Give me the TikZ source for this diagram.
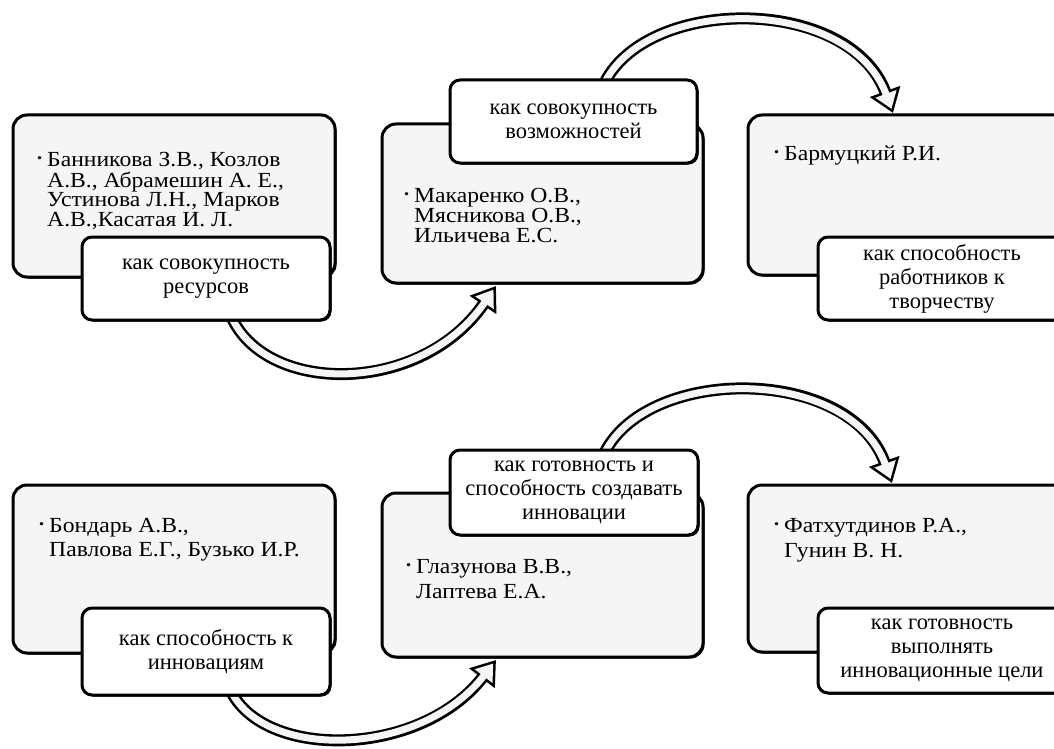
\documentclass[tikz,border=0pt]{standalone}
\usepackage{fontspec}
\setmainfont{Liberation Serif}
\newfontfamily\gfont[FakeStretch=1.1]{Liberation Serif}
\usetikzlibrary{arrows.meta,calc,shadows}
\pgfdeclarelayer{back}
\pgfdeclarelayer{bg}
\pgfsetlayers{back,bg,main}
\newcommand\bul{\makebox[10pt][l]{\fontsize{13}{13}\selectfont\raisebox{4pt}{•}}}
\begin{document}
\begin{tikzpicture}[x=1pt,y=-1pt,
  shad/.style={drop shadow={shadow xshift=1.5pt,shadow yshift=-1.5pt,opacity=1,fill=black}},
  gbox/.style={draw=black,line width=3pt,rounded corners=14pt,fill=gray!8,anchor=north west,inner sep=0pt,outer sep=0pt,shad},
  lbox/.style={draw=black,line width=3pt,rounded corners=10pt,fill=white,anchor=center,inner sep=0pt,outer sep=0pt,align=center,font=\fontsize{22.5}{24}\selectfont,shad},
  gtext/.style={anchor=north west,inner sep=0pt},
  flowout/.style={draw=black,line width=12pt,-{Triangle[length=23pt,width=31pt]}},
  flowin/.style={draw=gray!8,line width=7pt,shorten >=4.4pt,-{Triangle[length=16pt,width=21.5pt]}}
]
\useasboundingbox (0,0) rectangle (1054,749);
\clip (0,0) rectangle (1054,749);
\begin{pgfonlayer}{back}
\fill[white] (0,0) rectangle (1054,749);
\end{pgfonlayer}

% gray boxes
\node[gbox,minimum width=322pt,minimum height=162pt] (g1) at (13,115) {};
\node[gbox,minimum width=321pt,minimum height=159pt] (g2) at (382,124) {};
\node[gbox,minimum width=322pt,minimum height=160pt] (g3) at (748,115) {};
\node[gbox,minimum width=322pt,minimum height=168pt] (g4) at (13,485) {};
\node[gbox,minimum width=321pt,minimum height=164pt] (g5) at (382,493) {};
\node[gbox,minimum width=322pt,minimum height=167pt] (g6) at (748,485) {};

% texts in gray boxes
\node[gtext,font=\gfont\fontsize{21.5}{18.3}\selectfont] (t1) at (37,152)
  {\begin{tabular}{@{}l@{}l@{}}\bul&Банникова З.В., Козлов\\&А.В., Абрамешин А. Е.,\\&Устинова Л.Н., Марков\\&А.В.,Касатая И. Л.\end{tabular}};
\node[gtext,font=\gfont\fontsize{21.5}{20}\selectfont] (t2) at (404,188)
  {\begin{tabular}{@{}l@{}l@{}}\bul&Макаренко О.В.,\\&Мясникова О.В.,\\&Ильичева Е.С.\end{tabular}};
\node[gtext,font=\gfont\fontsize{21.5}{24}\selectfont] (t3) at (774,143)
  {\begin{tabular}{@{}l@{}l@{}}\bul&Бармуцкий Р.И.\end{tabular}};
\node[gtext,font=\gfont\fontsize{21.5}{24}\selectfont] (t4) at (39,515)
  {\begin{tabular}{@{}l@{}l@{}}\bul&Бондарь А.В.,\\&Павлова Е.Г., Бузько И.Р.\end{tabular}};
\node[gtext,font=\gfont\fontsize{21.5}{25}\selectfont] (t5) at (406,556)
  {\begin{tabular}{@{}l@{}l@{}}\bul&Глазунова В.В.,\\&Лаптева Е.А.\end{tabular}};
\node[gtext,font=\gfont\fontsize{21.5}{25}\selectfont] (t6) at (774,515)
  {\begin{tabular}{@{}l@{}l@{}}\bul&Фатхутдинов Р.А.,\\&Гунин В. Н.\end{tabular}};

% labels
\node[lbox,minimum width=248pt,minimum height=83pt] (l1) at (206,278.5) {как совокупность\\ресурсов};
\node[lbox,minimum width=247pt,minimum height=83pt] (l2) at (573.5,121.5) {как совокупность\\возможностей};
\node[lbox,minimum width=248pt,minimum height=83pt] (l3) at (942,278.5) {как способность\\работников к\\творчеству};
\node[lbox,minimum width=248pt,minimum height=87pt] (l4) at (206,651.5) {как способность к\\инновациям};
\node[lbox,minimum width=248pt,minimum height=85pt] (l5) at (574,492.5) {как готовность и\\способность создавать\\инновации};
\node[lbox,minimum width=248pt,minimum height=85pt] (l6) at (942,650.5) {как готовность\\выполнять\\инновационные цели};

% arrow endpoints
\coordinate (a1s) at ($(l1.south west)+(150,-2)$);
\coordinate (a1e) at ($(g2.south west)+(114,3)$);
\coordinate (a2s) at ($(l2.north west)+(155,2)$);
\coordinate (a2e) at ($(g3.north west)+(145,-2)$);
\coordinate (a3s) at ($(l5.north west)+(155,2)$);
\coordinate (a3e) at ($(g6.north west)+(144,-2)$);
\coordinate (a4s) at ($(l4.south west)+(150,-2)$);
\coordinate (a4e) at ($(g5.south west)+(114,3)$);

\begin{pgfonlayer}{bg}
\foreach \s in {flowout,flowin}{
  \draw[\s] (a1s) .. controls +(36,77) and +(-75,109) .. (a1e);
  \draw[\s] (a2s) .. controls +(45,-87) and +(-43,-117) .. (a2e);
  \draw[\s] (a3s) .. controls +(45,-87) and +(-42,-117) .. (a3e);
  \draw[\s] (a4s) .. controls +(36,67) and +(-75,97) .. (a4e);
}
\end{pgfonlayer}
\end{tikzpicture}
\end{document}
